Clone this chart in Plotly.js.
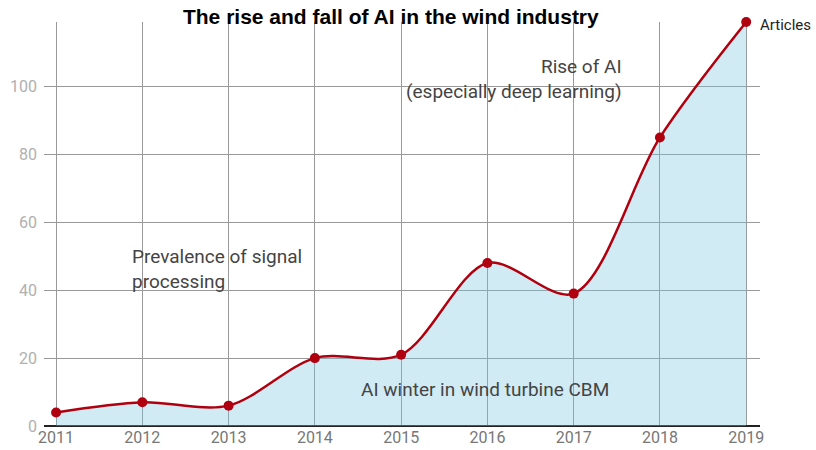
<!DOCTYPE html>
<html><head><meta charset="utf-8">
<script src="https://cdn.plot.ly/plotly-3.0.1.min.js"></script>
<style>html,body{margin:0;padding:0;background:#fff}#c{width:816px;height:450px}</style>
</head><body><div id="c"></div>
<script>
const years = [2011, 2012, 2013, 2014, 2015, 2016, 2017, 2018, 2019];
const articles = [4, 7, 6, 20, 21, 48, 39, 85, 119];
const seriesName = "Articles";
const titleText = "The rise and fall of AI in the wind industry";
const yTicks = [0, 20, 40, 60, 80, 100];

const trace = {
  x: years, y: articles, name: seriesName, type: 'scatter', mode: 'lines+markers',
  line: {color: '#b0000f', width: 2.5, shape: 'spline', smoothing: 0.9},
  marker: {color: '#b0000f', size: 10},
  fill: 'tozeroy', fillcolor: 'rgba(121,198,224,0.35)',
  cliponaxis: false,
  hoverinfo: 'skip'
};
const annFont = {family: 'Roboto, sans-serif', size: 19, color: '#444'};
const layout = {
  width: 816, height: 450,
  margin: {l: 44, r: 56, t: 22, b: 24},
  paper_bgcolor: '#fff', plot_bgcolor: '#fff',
  showlegend: false,
  title: {text: '<b>' + titleText + '</b>', font: {family: 'Liberation Sans, Arial, sans-serif', size: 21, color: '#000'},
          x: 0.479, xanchor: 'center', y: 0.979, yanchor: 'top'},
  xaxis: {range: [2010.86, 2019.16], tickvals: years, ticktext: years.map(String),
          showgrid: true, gridcolor: '#999', gridwidth: 1, zeroline: false, showline: false,
          tickfont: {family: 'Roboto, sans-serif', size: 16, color: '#777'}, ticks: ''},
  yaxis: {range: [0, 119], tickvals: yTicks, showgrid: true, gridcolor: '#999', gridwidth: 1,
          zeroline: true, zerolinecolor: '#222', zerolinewidth: 1.5, showline: false, ticks: '',
          ticklabelstandoff: 6,
          tickfont: {family: 'Roboto, sans-serif', size: 16, color: '#b0b0b0'}},
  annotations: [
    {xref: 'paper', yref: 'y', x: 1, y: articles[articles.length-1], xanchor: 'left', yanchor: 'middle',
     xshift: -2, yshift: -3, text: seriesName, showarrow: false, font: {family: 'Roboto, sans-serif', size: 15, color: '#222'}},
    {xref: 'x', yref: 'y', x: 2011.86, y: 46.1, xanchor: 'left', yanchor: 'middle', align: 'left',
     text: 'Prevalence of signal<br>processing', showarrow: false, font: annFont},
    {xref: 'x', yref: 'y', x: 2017.58, y: 102.3, xanchor: 'right', yanchor: 'middle', align: 'right',
     text: 'Rise of AI<br>(especially deep learning)', showarrow: false, font: annFont},
    {xref: 'x', yref: 'y', x: 2015.97, y: 10.8, xanchor: 'center', yanchor: 'middle',
     text: 'AI winter in wind turbine CBM', showarrow: false, font: annFont}
  ]
};
Plotly.newPlot('c', [trace], layout, {staticPlot: true, displayModeBar: false});
</script></body></html>
